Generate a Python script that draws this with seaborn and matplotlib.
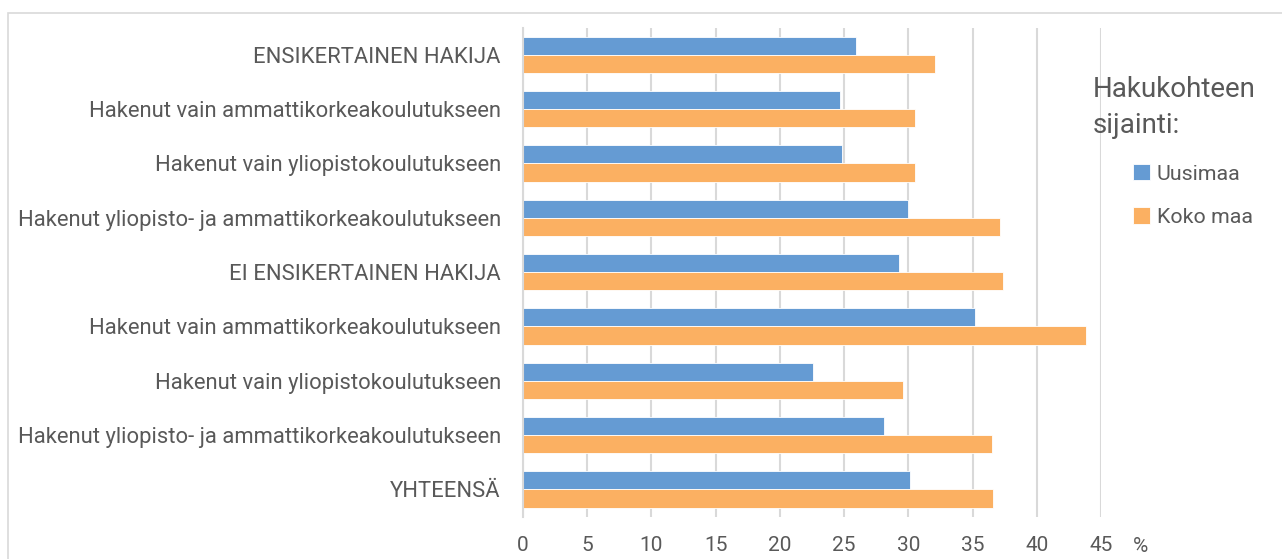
import matplotlib
matplotlib.use("Agg")
import matplotlib.pyplot as plt
import seaborn as sns
import pandas as pd
from matplotlib.patches import Rectangle

categories = [
    "ENSIKERTAINEN HAKIJA",
    "Hakenut vain ammattikorkeakoulutukseen",
    "Hakenut vain yliopistokoulutukseen",
    "Hakenut yliopisto- ja ammattikorkeakoulutukseen",
    "EI ENSIKERTAINEN HAKIJA",
    "Hakenut vain ammattikorkeakoulutukseen",
    "Hakenut vain yliopistokoulutukseen",
    "Hakenut yliopisto- ja ammattikorkeakoulutukseen",
    "YHTEENSÄ",
]
uusimaa = [25.9, 24.7, 24.8, 30.0, 29.3, 35.2, 22.6, 28.1, 30.1]
koko_maa = [32.1, 30.5, 30.5, 37.1, 37.4, 43.8, 29.6, 36.5, 36.6]
series_names = ["Uusimaa", "Koko maa"]
x_ticks = [0, 5, 10, 15, 20, 25, 30, 35, 40, 45]

sns.set_theme(style="white")
plt.rcParams["font.family"] = ["Roboto", "DejaVu Sans"]

n = len(categories)
df = pd.DataFrame({
    "pos": list(range(n)) * 2,
    "val": uusimaa + koko_maa,
    "series": [series_names[0]] * n + [series_names[1]] * n,
})

fig = plt.figure(figsize=(12.82, 5.59), dpi=100)
ax = fig.add_axes([523 / 1282, (559 - 516.6) / 559, (1101 - 523) / 1282, (516.6 - 27.6) / 559])

text_col = "#595959"
sns.barplot(data=df, y="pos", x="val", hue="series", orient="h",
            palette=["#659BD3", "#FBB062"], saturation=1, width=0.67, gap=0,
            edgecolor="white", linewidth=0.6, ax=ax, legend=True)

ax.set_yticks(range(n))
ax.set_yticklabels(categories)
ax.set_xlim(0, 45)
ax.set_xticks(x_ticks)
ax.set_xticklabels([str(t) for t in x_ticks])
ax.grid(axis="x", color="#d9d9d9", linewidth=1.5)
ax.set_axisbelow(True)
for s in ["top", "right", "bottom"]:
    ax.spines[s].set_visible(False)
ax.spines["left"].set_color("#d9d9d9")
ax.spines["left"].set_linewidth(1.5)
ax.tick_params(axis="y", length=0, pad=16, labelsize=15.8, labelcolor=text_col)
ax.tick_params(axis="x", length=0, pad=14, labelsize=15, labelcolor=text_col)
ax.set_xlabel("")
ax.set_ylabel("")
ax.text(1141 / 1282, 1 - 547 / 559, "%", transform=fig.transFigure, fontsize=15,
        color=text_col, ha="center", va="center")

handles, labels = ax.get_legend_handles_labels()
ax.get_legend().remove()
fig.text(1093 / 1282, 1 - 76 / 559, "Hakukohteen\nsijainti:", fontsize=20,
         color=text_col, ha="left", va="top", linespacing=1.45)
leg = fig.legend(handles, labels, loc="upper left",
                 bbox_to_anchor=(1133 / 1282, 1 - 164 / 559), frameon=False,
                 fontsize=15.4, handlelength=0.8, handleheight=0.8,
                 handletextpad=0.3, labelspacing=1.1, borderpad=0,
                 borderaxespad=0)
for t in leg.get_texts():
    t.set_color(text_col)

fig.patches.append(Rectangle((8 / 1282, -0.1), 1.2, (559 - 13) / 559 + 0.1,
                             transform=fig.transFigure, fill=False,
                             edgecolor="#d9d9d9", linewidth=1.2))

fig.savefig("out.png", dpi=100)
